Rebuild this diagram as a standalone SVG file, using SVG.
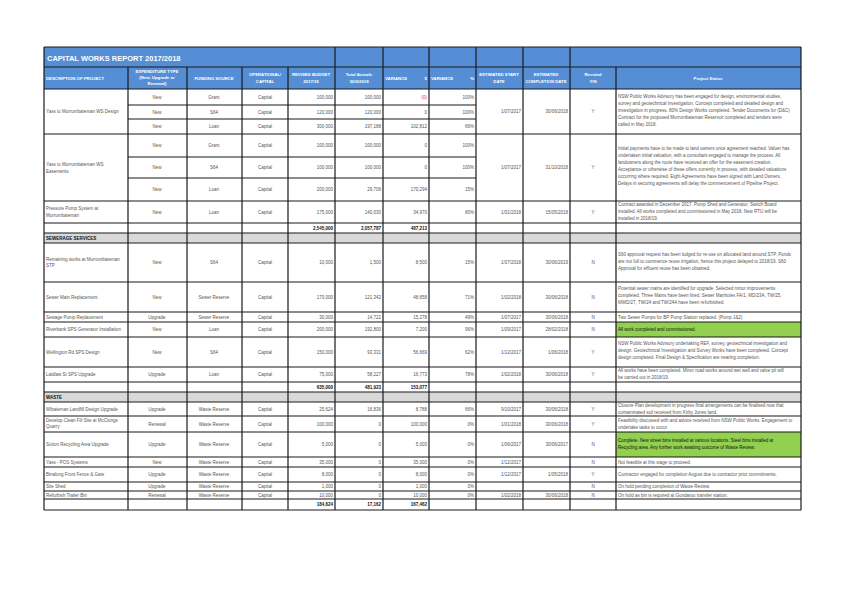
<svg xmlns="http://www.w3.org/2000/svg" width="856" height="599" viewBox="0 0 856 599">
<style>
text{font-family:"Liberation Sans",Arial,sans-serif;font-size:4.5px;fill:#555}
.c{text-anchor:middle}.r{text-anchor:end}
.h{font-weight:bold;fill:#fff;font-size:4.3px}
.b{font-weight:bold;fill:#111}
.k{fill:#111}
.g line{stroke:#1a1a1a;stroke-width:1.2}
</style>
<rect width="856" height="599" fill="#fff"/>
<g id="fills">
<rect x="44" y="47" width="757" height="42" fill="#558ED5"/>
<rect x="44" y="233" width="757" height="10" fill="#D9D9D9"/>
<rect x="44" y="392" width="757" height="10" fill="#D9D9D9"/>
<rect x="616" y="322" width="185" height="15" fill="#92D050"/>
<rect x="616" y="432" width="185" height="25" fill="#92D050"/>
</g>
<g id="connectors" class="g">
<line x1="44" y1="47" x2="44" y2="510"/><line x1="801" y1="47" x2="801" y2="510"/>
<line x1="128" y1="67" x2="128" y2="510"/><line x1="187" y1="67" x2="187" y2="510"/>
<line x1="242" y1="67" x2="242" y2="510"/><line x1="288" y1="67" x2="288" y2="510"/>
<line x1="335" y1="47" x2="335" y2="510"/><line x1="383" y1="47" x2="383" y2="510"/>
<line x1="429" y1="47" x2="429" y2="510"/><line x1="476" y1="47" x2="476" y2="510"/>
<line x1="523" y1="47" x2="523" y2="510"/><line x1="570" y1="47" x2="570" y2="510"/>
<line x1="616" y1="67" x2="616" y2="510"/>
<line x1="44" y1="47" x2="801" y2="47"/><line x1="44" y1="67" x2="801" y2="67"/>
<line x1="44" y1="89" x2="801" y2="89"/><line x1="44" y1="134" x2="801" y2="134"/>
<line x1="44" y1="201" x2="801" y2="201"/><line x1="44" y1="223" x2="801" y2="223"/>
<line x1="44" y1="233" x2="801" y2="233"/><line x1="44" y1="243" x2="801" y2="243"/>
<line x1="44" y1="282" x2="801" y2="282"/><line x1="44" y1="312" x2="801" y2="312"/>
<line x1="44" y1="322" x2="801" y2="322"/><line x1="44" y1="337" x2="801" y2="337"/>
<line x1="44" y1="367" x2="801" y2="367"/><line x1="44" y1="382" x2="801" y2="382"/>
<line x1="44" y1="392" x2="801" y2="392"/><line x1="44" y1="402" x2="801" y2="402"/>
<line x1="44" y1="416" x2="801" y2="416"/><line x1="44" y1="432" x2="801" y2="432"/>
<line x1="44" y1="457" x2="801" y2="457"/><line x1="44" y1="467" x2="801" y2="467"/>
<line x1="44" y1="482" x2="801" y2="482"/><line x1="44" y1="491" x2="801" y2="491"/>
<line x1="44" y1="499" x2="801" y2="499"/><line x1="44" y1="510" x2="801" y2="510"/>
<line x1="128" y1="105" x2="476" y2="105"/><line x1="128" y1="119" x2="476" y2="119"/>
<line x1="128" y1="157" x2="476" y2="157"/><line x1="128" y1="178" x2="476" y2="178"/>
</g>
<g id="header">
<text x="47" y="61" class="h" style="font-size:7.5px">CAPITAL WORKS REPORT 2017/2018</text>
<text x="46" y="80" class="h">DESCRIPTION OF PROJECT</text>
<text x="157" y="73" class="h c">EXPENDITURE TYPE</text><text x="157" y="79" class="h c">(New, Upgrade or</text><text x="157" y="85" class="h c">Renewal)</text>
<text x="214" y="80" class="h c">FUNDING SOURCE</text>
<text x="265" y="76" class="h c">OPERATIONAL/</text><text x="265" y="83" class="h c">CAPITAL</text>
<text x="311" y="76" class="h c">REVISED BUDGET</text><text x="311" y="83" class="h c">2017/18</text>
<text x="359" y="76" class="h c">Total Actuals</text><text x="359" y="83" class="h c">30/6/2018</text>
<text x="385" y="80" class="h">VARIANCE</text><text x="427" y="80" class="h r">$</text>
<text x="431" y="80" class="h">VARIANCE</text><text x="474" y="80" class="h r">%</text>
<text x="499" y="76" class="h c">ESTIMATED START</text><text x="499" y="83" class="h c">DATE</text>
<text x="546" y="76" class="h c">ESTIMATED</text><text x="546" y="83" class="h c">COMPLETION DATE</text>
<text x="593" y="76" class="h c">Revoted</text><text x="593" y="83" class="h c">Y/N</text>
<text x="708" y="80" class="h c">Project Status</text>
</g>
<g id="g1">
<text x="46" y="113">Yass to Murrumbateman WS Design</text>
<text x="157" y="98.5" class="c">New</text><text x="214" y="98.5" class="c">Grant</text><text x="265" y="98.5" class="c">Capital</text><text x="333" y="98.5" class="r">100,000</text><text x="381" y="98.5" class="r">100,000</text><text x="427" y="98.5" class="r" style="fill:#e33">(0)</text><text x="474" y="98.5" class="r">100%</text>
<text x="157" y="113.5" class="c">New</text><text x="214" y="113.5" class="c">S64</text><text x="265" y="113.5" class="c">Capital</text><text x="333" y="113.5" class="r">120,000</text><text x="381" y="113.5" class="r">120,000</text><text x="427" y="113.5" class="r">0</text><text x="474" y="113.5" class="r">100%</text>
<text x="157" y="128" class="c">New</text><text x="214" y="128" class="c">Loan</text><text x="265" y="128" class="c">Capital</text><text x="333" y="128" class="r">300,000</text><text x="381" y="128" class="r">197,188</text><text x="427" y="128" class="r">102,812</text><text x="474" y="128" class="r">66%</text>
<text x="521" y="113" class="r">1/07/2017</text><text x="568" y="113" class="r">30/06/2018</text><text x="593" y="113" class="c">Y</text>
<text x="618" y="98">NSW Public Works Advisory has been engaged for design, environmental studies,</text>
<text x="618" y="105">survey and geotechnical investigation. Concept completed and detailed design and</text>
<text x="618" y="112">investigation in progress. 80% Design Works completed. Tender Documents for (D&amp;C)</text>
<text x="618" y="119">Contract for the proposed Murrumbateman Reservoir completed and tenders were</text>
<text x="618" y="126">called in May 2018.</text>
</g>
<g id="g2">
<text x="46" y="166">Yass to Murrumbateman WS</text><text x="46" y="172.5">Easements</text>
<text x="157" y="147" class="c">New</text><text x="214" y="147" class="c">Grant</text><text x="265" y="147" class="c">Capital</text><text x="333" y="147" class="r">100,000</text><text x="381" y="147" class="r">100,000</text><text x="427" y="147" class="r">0</text><text x="474" y="147" class="r">100%</text>
<text x="157" y="169" class="c">New</text><text x="214" y="169" class="c">S64</text><text x="265" y="169" class="c">Capital</text><text x="333" y="169" class="r">100,000</text><text x="381" y="169" class="r">100,000</text><text x="427" y="169" class="r">0</text><text x="474" y="169" class="r">100%</text>
<text x="157" y="191" class="c">New</text><text x="214" y="191" class="c">Loan</text><text x="265" y="191" class="c">Capital</text><text x="333" y="191" class="r">200,000</text><text x="381" y="191" class="r">29,706</text><text x="427" y="191" class="r">170,294</text><text x="474" y="191" class="r">15%</text>
<text x="521" y="169" class="r">1/07/2017</text><text x="568" y="169" class="r">31/10/2018</text><text x="593" y="169" class="c">Y</text>
<text x="618" y="150">Initial payments have to be made to land owners once agreement reached. Valuer has</text>
<text x="618" y="157">undertaken initial valuation, with a consultant engaged to manage the process. All</text>
<text x="618" y="164">landowners along the route have received an offer for the easement creation.</text>
<text x="618" y="171">Acceptance or otherwise of these offers currently in process, with detailed valuations</text>
<text x="618" y="178">occurring where required. Eight Agreements have been signed with Land Owners.</text>
<text x="618" y="185">Delays in securing agreements will delay the commencement of Pipeline Project.</text>
</g>
<g id="pump">
<text x="46" y="210">Pressure Pump System at</text><text x="46" y="216.5">Murrumbateman</text>
<text x="157" y="213.5" class="c">New</text><text x="214" y="213.5" class="c">Loan</text><text x="265" y="213.5" class="c">Capital</text><text x="333" y="213.5" class="r">175,000</text><text x="381" y="213.5" class="r">140,030</text><text x="427" y="213.5" class="r">34,970</text><text x="474" y="213.5" class="r">80%</text><text x="521" y="213.5" class="r">1/01/2018</text><text x="568" y="213.5" class="r">15/05/2018</text><text x="593" y="213.5" class="c">Y</text>
<text x="618" y="206">Contract awarded in December 2017. Pump Shed and Generator, Switch Board</text>
<text x="618" y="213">installed. All works  completed and commissioned in May 2018. New RTU will be</text>
<text x="618" y="220">installed in 2018/19.</text>
</g>
<g id="total1">
<text x="333" y="229.5" class="r b">2,545,000</text><text x="381" y="229.5" class="r b">2,057,787</text><text x="427" y="229.5" class="r b">487,213</text>
</g>
<g id="sewerage"><text x="46" y="239.5" class="b">SEWERAGE SERVICES</text></g>
<g id="remaining">
<text x="46" y="260.5">Remaining works at Murrumbateman</text><text x="46" y="267">STP</text>
<text x="157" y="264" class="c">New</text><text x="214" y="264" class="c">S64</text><text x="265" y="264" class="c">Capital</text><text x="333" y="264" class="r">10,000</text><text x="381" y="264" class="r">1,500</text><text x="427" y="264" class="r">8,500</text><text x="474" y="264" class="r">15%</text><text x="521" y="264" class="r">1/07/2018</text><text x="568" y="264" class="r">30/06/2019</text><text x="593" y="264" class="c">N</text>
<text x="618" y="256">S60 approval request has been lodged for re-use on allocated land around STP. Ponds</text>
<text x="618" y="263">are not full to commence reuse irrigation, hence this project delayed to 2018/19. S60</text>
<text x="618" y="270">Approval for effluent reuse has been obtained.</text>
</g>
<g id="sewermain">
<text x="46" y="298.5">Sewer Main Replacement</text>
<text x="157" y="298.5" class="c">New</text><text x="214" y="298.5" class="c">Sewer Reserve</text><text x="265" y="298.5" class="c">Capital</text><text x="333" y="298.5" class="r">170,000</text><text x="381" y="298.5" class="r">121,342</text><text x="427" y="298.5" class="r">48,658</text><text x="474" y="298.5" class="r">71%</text><text x="521" y="298.5" class="r">1/02/2018</text><text x="568" y="298.5" class="r">30/06/2018</text><text x="593" y="298.5" class="c">N</text>
<text x="618" y="290">Potential sewer mains are identified for upgrade. Selected minor improvements</text>
<text x="618" y="297">completed. Three Mains have been lined. Sewer Manholes FA/1, MD/23A, TW/25,</text>
<text x="618" y="304">MWD/27, TW/24 and TW/24A have been refurbished.</text>
</g>
<g id="sewagepump">
<text x="46" y="318.5">Sewage Pump Replacement</text>
<text x="157" y="318.5" class="c">Upgrade</text><text x="214" y="318.5" class="c">Sewer Reserve</text><text x="265" y="318.5" class="c">Capital</text><text x="333" y="318.5" class="r">30,000</text><text x="381" y="318.5" class="r">14,722</text><text x="427" y="318.5" class="r">15,278</text><text x="474" y="318.5" class="r">49%</text><text x="521" y="318.5" class="r">1/07/2017</text><text x="568" y="318.5" class="r">30/06/2018</text><text x="593" y="318.5" class="c">N</text>
<text x="618" y="318.5">Two Sewer Pumps for BP Pump Station replaced. (Pump 1&amp;2)</text>
</g>
<g id="riverbank">
<text x="46" y="331">Riverbank SPS Generator Installation</text>
<text x="157" y="331" class="c">New</text><text x="214" y="331" class="c">Loan</text><text x="265" y="331" class="c">Capital</text><text x="333" y="331" class="r">200,000</text><text x="381" y="331" class="r">192,800</text><text x="427" y="331" class="r">7,200</text><text x="474" y="331" class="r">96%</text><text x="521" y="331" class="r">1/09/2017</text><text x="568" y="331" class="r">28/02/2018</text><text x="593" y="331" class="c">N</text>
<text x="618" y="331" class="k">All work completed and commissioned.</text>
</g>
<g id="wellington">
<text x="46" y="353.5">Wellington Rd SPS Design</text>
<text x="157" y="353.5" class="c">New</text><text x="214" y="353.5" class="c">S64</text><text x="265" y="353.5" class="c">Capital</text><text x="333" y="353.5" class="r">150,000</text><text x="381" y="353.5" class="r">93,331</text><text x="427" y="353.5" class="r">56,669</text><text x="474" y="353.5" class="r">62%</text><text x="521" y="353.5" class="r">1/12/2017</text><text x="568" y="353.5" class="r">1/06/2018</text><text x="593" y="353.5" class="c">Y</text>
<text x="618" y="345">NSW Public Works Advisory undertaking REF, survey, geotechnical investigation and</text>
<text x="618" y="352">design. Geotechnical Investigation and Survey Works have been completed. Concept</text>
<text x="618" y="359">design completed. Final Design &amp; Specification are nearing completion.</text>
</g>
<g id="laidlaw">
<text x="46" y="376">Laidlaw St SPS Upgrade</text>
<text x="157" y="376" class="c">Upgrade</text><text x="214" y="376" class="c">Loan</text><text x="265" y="376" class="c">Capital</text><text x="333" y="376" class="r">75,000</text><text x="381" y="376" class="r">58,227</text><text x="427" y="376" class="r">16,773</text><text x="474" y="376" class="r">78%</text><text x="521" y="376" class="r">1/02/2018</text><text x="568" y="376" class="r">30/06/2018</text><text x="593" y="376" class="c">Y</text>
<text x="618" y="372">All works have been completed. Minor road works  around wet well  and valve pit will</text>
<text x="618" y="379">be carried out in 2018/19.</text>
</g>
<g id="total2">
<text x="333" y="388.5" class="r b">635,000</text><text x="381" y="388.5" class="r b">481,923</text><text x="427" y="388.5" class="r b">153,077</text>
</g>
<g id="waste"><text x="46" y="398.5" class="b">WASTE</text></g>
<g id="landfill">
<text x="46" y="410.5">M/bateman Landfill Design Upgrade</text>
<text x="157" y="410.5" class="c">Upgrade</text><text x="214" y="410.5" class="c">Waste Reserve</text><text x="265" y="410.5" class="c">Capital</text><text x="333" y="410.5" class="r">25,624</text><text x="381" y="410.5" class="r">16,836</text><text x="427" y="410.5" class="r">8,788</text><text x="474" y="410.5" class="r">66%</text><text x="521" y="410.5" class="r">9/10/2017</text><text x="568" y="410.5" class="r">30/06/2018</text><text x="593" y="410.5" class="c">Y</text>
<text x="618" y="407">Closure Plan development in progress final arrangements can be finalised now that</text>
<text x="618" y="414">contaminated soil received from Kirby Jones land.</text>
</g>
<g id="cleanfill">
<text x="46" y="421.5">Develop Clean Fill Site at McClungs</text><text x="46" y="428">Quarry</text>
<text x="157" y="425.5" class="c">Renewal</text><text x="214" y="425.5" class="c">Waste Reserve</text><text x="265" y="425.5" class="c">Capital</text><text x="333" y="425.5" class="r">100,000</text><text x="381" y="425.5" class="r">0</text><text x="427" y="425.5" class="r">100,000</text><text x="474" y="425.5" class="r">0%</text><text x="521" y="425.5" class="r">1/01/2018</text><text x="568" y="425.5" class="r">30/06/2018</text><text x="593" y="425.5" class="c">Y</text>
<text x="618" y="421.5">Feasibility discussed with and advice received from NSW Public Works. Engagement to</text>
<text x="618" y="428.5">undertake tasks to occur.</text>
</g>
<g id="sutton">
<text x="46" y="446">Sutton Recycling Area Upgrade</text>
<text x="157" y="446" class="c">Upgrade</text><text x="214" y="446" class="c">Waste Reserve</text><text x="265" y="446" class="c">Capital</text><text x="333" y="446" class="r">5,000</text><text x="381" y="446" class="r">0</text><text x="427" y="446" class="r">5,000</text><text x="474" y="446" class="r">0%</text><text x="521" y="446" class="r">1/06/2017</text><text x="568" y="446" class="r">30/06/2017</text><text x="593" y="446" class="c">N</text>
<text x="618" y="442" class="k">Complete. New street bins installed at various locations. Steel bins installed at</text>
<text x="618" y="449" class="k">Recycling area. Any further work awaiting outcome of Waste Review.</text>
</g>
<g id="pos">
<text x="46" y="463.5">Yass - POS Systems</text>
<text x="157" y="463.5" class="c">New</text><text x="214" y="463.5" class="c">Waste Reserve</text><text x="265" y="463.5" class="c">Capital</text><text x="333" y="463.5" class="r">35,000</text><text x="381" y="463.5" class="r">0</text><text x="427" y="463.5" class="r">35,000</text><text x="474" y="463.5" class="r">0%</text><text x="521" y="463.5" class="r">1/12/2017</text><text x="593" y="463.5" class="c">N</text>
<text x="618" y="463.5">Not feasible at this stage to proceed.</text>
</g>
<g id="binalong">
<text x="46" y="476">Binalong Front Fence &amp; Gate</text>
<text x="157" y="476" class="c">Upgrade</text><text x="214" y="476" class="c">Waste Reserve</text><text x="265" y="476" class="c">Capital</text><text x="333" y="476" class="r">8,000</text><text x="381" y="476" class="r">0</text><text x="427" y="476" class="r">8,000</text><text x="474" y="476" class="r">0%</text><text x="521" y="476" class="r">1/12/2017</text><text x="568" y="476" class="r">1/05/2018</text><text x="593" y="476" class="c">Y</text>
<text x="618" y="476">Contractor engaged for completion August due to contractor prior commitments.</text>
</g>
<g id="shed">
<text x="46" y="488">Site Shed</text>
<text x="157" y="488" class="c">Upgrade</text><text x="214" y="488" class="c">Waste Reserve</text><text x="265" y="488" class="c">Capital</text><text x="333" y="488" class="r">1,000</text><text x="381" y="488" class="r">0</text><text x="427" y="488" class="r">1,000</text><text x="474" y="488" class="r">0%</text><text x="593" y="488" class="c">N</text>
<text x="618" y="488">On hold pending completion of Waste Review.</text>
</g>
<g id="trailer">
<text x="46" y="496.5">Refurbish Trailer Bin</text>
<text x="157" y="496.5" class="c">Renewal</text><text x="214" y="496.5" class="c">Waste Reserve</text><text x="265" y="496.5" class="c">Capital</text><text x="333" y="496.5" class="r">10,000</text><text x="381" y="496.5" class="r">0</text><text x="427" y="496.5" class="r">10,000</text><text x="474" y="496.5" class="r">0%</text><text x="521" y="496.5" class="r">1/02/2018</text><text x="568" y="496.5" class="r">30/06/2018</text><text x="593" y="496.5" class="c">N</text>
<text x="618" y="496.5">On hold as bin is required at Gundaroo transfer station.</text>
</g>
<g id="total3">
<text x="333" y="506" class="r b">184,624</text><text x="381" y="506" class="r b">17,162</text><text x="427" y="506" class="r b">167,462</text>
</g>
</svg>
